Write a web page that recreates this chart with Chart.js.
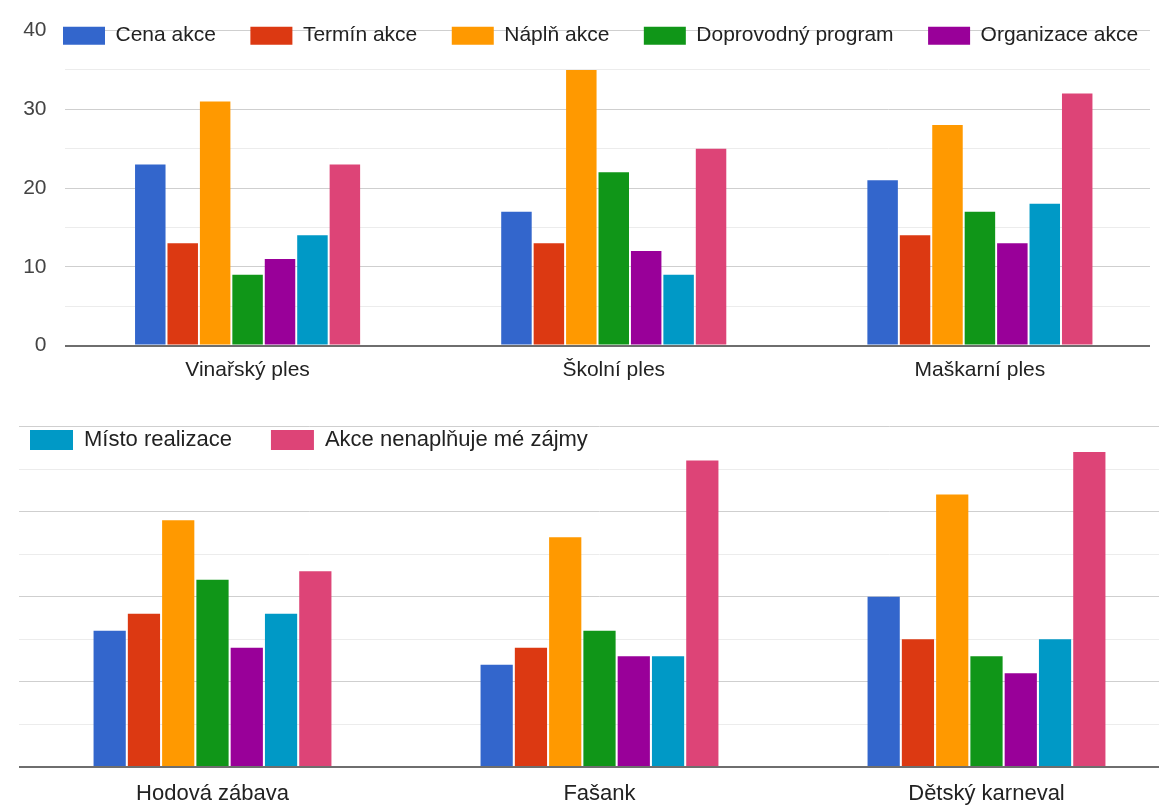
<!DOCTYPE html>
<html>
<head>
<meta charset="utf-8">
<script src="https://cdn.jsdelivr.net/npm/chart.js@4/dist/chart.umd.min.js"></script>
<style>
html, body { margin: 0; padding: 0; background: #fff; overflow: hidden; }
#wrap { position: relative; width: 1159px; height: 805px; overflow: hidden; background: #fff; }
#topBox { position: absolute; left: 0; top: 0; width: 1150px; height: 400px; overflow: hidden; }
#bottomChart { position: absolute; left: 0; top: 400px; }
</style>
</head>
<body>
<div id="wrap">
  <div id="topBox">
    <canvas id="topChart" width="1163" height="400" style="width:1163px;height:400px"></canvas>
  </div>
  <canvas id="bottomChart" width="1180" height="405" style="width:1180px;height:405px"></canvas>
</div>
<script>
// ---- data ----
const events = ['Vinařský ples', 'Školní ples', 'Maškarní ples', 'Hodová zábava', 'Fašank', 'Dětský karneval'];
const seriesNames = ['Cena akce', 'Termín akce', 'Náplň akce', 'Doprovodný program', 'Organizace akce', 'Místo realizace', 'Akce nenaplňuje mé zájmy'];
const cenaAkce        = [23, 17, 21, 16, 12, 20];
const terminAkce      = [13, 13, 14, 18, 14, 15];
const naplnAkce       = [31, 35, 28, 29, 27, 32];
const doprovodny      = [9, 22, 17, 22, 16, 13];
const organizaceAkce  = [11, 12, 13, 14, 13, 11];
const mistoRealizace  = [14, 9, 18, 18, 13, 15];
const nenaplnujeZajmy = [23, 25, 32, 23, 36, 37];
const yTicks = [0, 10, 20, 30, 40];

const seriesValues = [cenaAkce, terminAkce, naplnAkce, doprovodny, organizaceAkce, mistoRealizace, nenaplnujeZajmy];
const colors = ['#3366cc', '#dc3912', '#ff9900', '#109618', '#990099', '#0099c6', '#dd4477'];

Chart.defaults.font.family = '"Liberation Sans", Arial, Helvetica, sans-serif';

// moves the legend (which takes no layout space) into the plot area
const legendShift = {
  id: 'legendShift',
  afterLayout(chart, args, o) {
    const lg = chart.legend;
    if (!lg) return;
    const pad = lg.options.labels.padding;
    lg.left = o.x - pad;
    lg.top = o.y - pad;
    lg.right = lg.left + 3000;
    lg.width = 3000;
    lg.bottom = lg.top + 200;
    lg.height = 200;
  }
};

function makeChart(id, from, to, cfg) {
  const datasets = seriesNames.map((name, i) => ({
    label: name,
    data: seriesValues[i].slice(from, to),
    backgroundColor: colors[i],
    borderWidth: 0,
    categoryPercentage: 0.62,
    barPercentage: 0.94
  }));
  return new Chart(document.getElementById(id), {
    type: 'bar',
    data: { labels: events.slice(from, to), datasets },
    plugins: [legendShift],
    options: {
      responsive: false,
      animation: false,
      events: [],
      layout: { padding: { top: cfg.padTop, left: 0, right: 0, bottom: 0 } },
      plugins: {
        tooltip: { enabled: false },
        legend: {
          position: 'top',
          align: 'start',
          maxHeight: 0.001,
          labels: {
            boxWidth: cfg.boxW,
            boxHeight: cfg.boxH,
            padding: cfg.legendPad,
            color: '#222',
            font: { size: cfg.font },
            filter: item => cfg.legendFilter(item.datasetIndex)
          }
        },
        legendShift: { x: cfg.legendX, y: cfg.legendY }
      },
      scales: {
        x: {
          border: { display: false },
          grid: { display: false, drawTicks: false },
          ticks: { padding: cfg.xPad, color: '#222', font: { size: cfg.font }, maxRotation: 0 },
          afterFit: s => { s.height = cfg.xHeight; }
        },
        y: {
          min: yTicks[0],
          max: yTicks[yTicks.length - 1],
          border: { display: false },
          grid: {
            drawTicks: false,
            color: c => c.tick.value === 0 ? '#6e6e6e' : (yTicks.includes(c.tick.value) ? '#cfcfcf' : '#ececec'),
            lineWidth: c => c.tick.value === 0 ? 2 : 1
          },
          ticks: {
            display: cfg.yLabels,
            stepSize: 5,
            padding: 18,
            color: '#444',
            font: { size: cfg.font },
            callback: v => yTicks.includes(v) ? String(v) : ''
          },
          afterFit: s => { s.width = cfg.yWidth; }
        }
      }
    }
  });
}

makeChart('topChart', 0, 3, {
  padTop: 23, xHeight: 54.5, yWidth: 64.5, yLabels: true, font: 21, xPad: 12,
  boxW: 42, boxH: 18, legendPad: 34.5, legendX: 63, legendY: 25.2,
  legendFilter: i => i < 5
});

makeChart('bottomChart', 3, 6, {
  padTop: 26.5, xHeight: 38, yWidth: 19, yLabels: false, font: 22, xPad: 13.5,
  boxW: 43, boxH: 20, legendPad: 39, legendX: 30, legendY: 29,
  legendFilter: i => i >= 5
});
</script>
</body>
</html>
